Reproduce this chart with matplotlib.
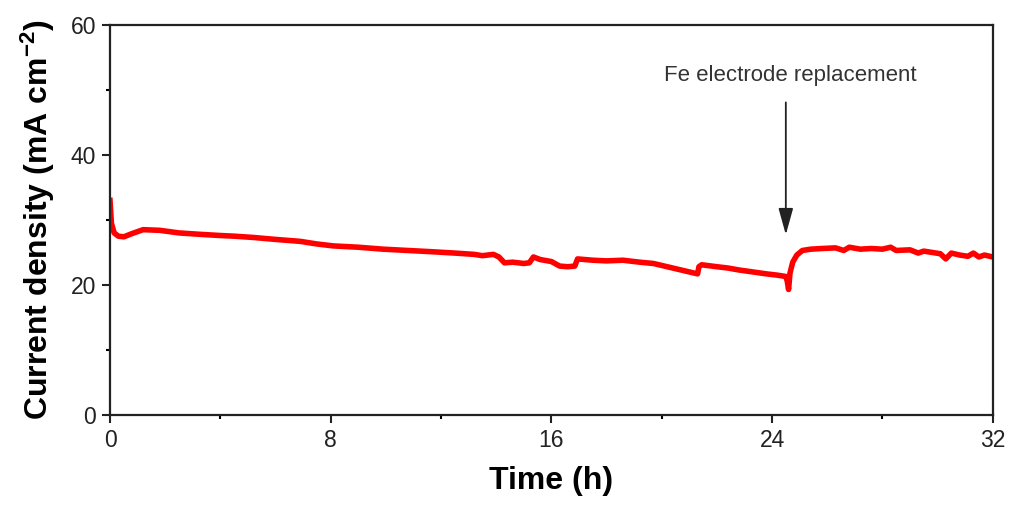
import matplotlib
matplotlib.use("Agg")
import matplotlib.pyplot as plt
from matplotlib.ticker import MultipleLocator

plt.rcParams["font.family"] = ["Liberation Sans", "DejaVu Sans"]
plt.rcParams["mathtext.default"] = "regular"

# time (h) and current density (mA cm^-2)
time_h = [0.0, 0.05, 0.15, 0.3, 0.5, 0.8, 1.2, 1.8, 2.5, 3.2, 4.0, 4.5,
          5.2, 6.0, 6.9, 7.5, 8.1, 9.0, 9.9, 10.8, 11.7, 12.5, 13.2, 13.5,
          13.9, 14.1, 14.3, 14.6, 15.0, 15.2, 15.35, 15.6, 16.0, 16.3, 16.6,
          16.85, 16.95, 17.5, 18.0, 18.6, 19.2, 19.7, 20.3, 20.8, 21.3,
          21.35, 21.45, 22.0, 22.4, 22.8, 23.3, 23.8, 24.2, 24.5, 24.55,
          24.6, 24.65, 24.75, 24.9, 25.1, 25.4, 25.8, 26.3, 26.6, 26.8, 27.2,
          27.6, 28.0, 28.3, 28.5, 29.0, 29.3, 29.5, 29.8, 30.1, 30.3, 30.5,
          30.8, 31.1, 31.3, 31.5, 31.7, 32.0]
current = [33.0, 29.5, 28.0, 27.5, 27.4, 27.9, 28.5, 28.4, 28.0, 27.8, 27.6,
           27.5, 27.3, 27.0, 26.7, 26.3, 26.0, 25.8, 25.5, 25.3, 25.1, 24.9,
           24.7, 24.5, 24.7, 24.3, 23.4, 23.5, 23.3, 23.4, 24.3, 23.9, 23.6,
           22.9, 22.8, 22.9, 24.0, 23.8, 23.7, 23.8, 23.5, 23.3, 22.7, 22.2,
           21.7, 22.8, 23.1, 22.8, 22.6, 22.3, 22.0, 21.7, 21.5, 21.3, 20.6,
           19.3, 21.8, 23.5, 24.6, 25.3, 25.5, 25.6, 25.7, 25.3, 25.8, 25.5,
           25.6, 25.5, 25.8, 25.3, 25.4, 24.9, 25.2, 25.0, 24.8, 24.0, 24.9,
           24.6, 24.4, 24.9, 24.3, 24.6, 24.3]

x_ticks = [0, 8, 16, 24, 32]
y_ticks = [0, 20, 40, 60]

fig = plt.figure(figsize=(10.14, 5.07), dpi=100)
ax = fig.add_axes([0.1085, 0.1815, 0.8705, 0.7695])

ax.plot(time_h, current, color="#ff0000", linewidth=4, solid_joinstyle="round")

ax.set_xlim(0, 32)
ax.set_ylim(0, 60)
ax.set_xticks(x_ticks)
ax.set_yticks(y_ticks)
ax.xaxis.set_minor_locator(MultipleLocator(4))
ax.yaxis.set_minor_locator(MultipleLocator(10))
ax.tick_params(which="major", direction="out", length=6, width=1.5,
               labelsize=16.5, colors="#222222", pad=4)
ax.tick_params(which="minor", direction="out", length=3, width=1.5)
for s in ax.spines.values():
    s.set_linewidth(1.6)
    s.set_color("#222222")

ax.set_xlabel("Time (h)", fontsize=23, fontweight="bold", labelpad=10)
ax.set_ylabel("Current density (mA cm$^{-2}$)", fontsize=23, fontweight="bold",
              labelpad=10)

ax.annotate("", xy=(24.5, 27.3), xytext=(24.5, 48.5),
            arrowprops=dict(arrowstyle="-|>,head_length=0.9,head_width=0.25",
                            color="#222222", lw=1.3, mutation_scale=18))
ax.text(24.65, 52.2, "Fe electrode replacement", fontsize=16,
        ha="center", va="center", color="#333333")

fig.savefig("out.png", dpi=100)
